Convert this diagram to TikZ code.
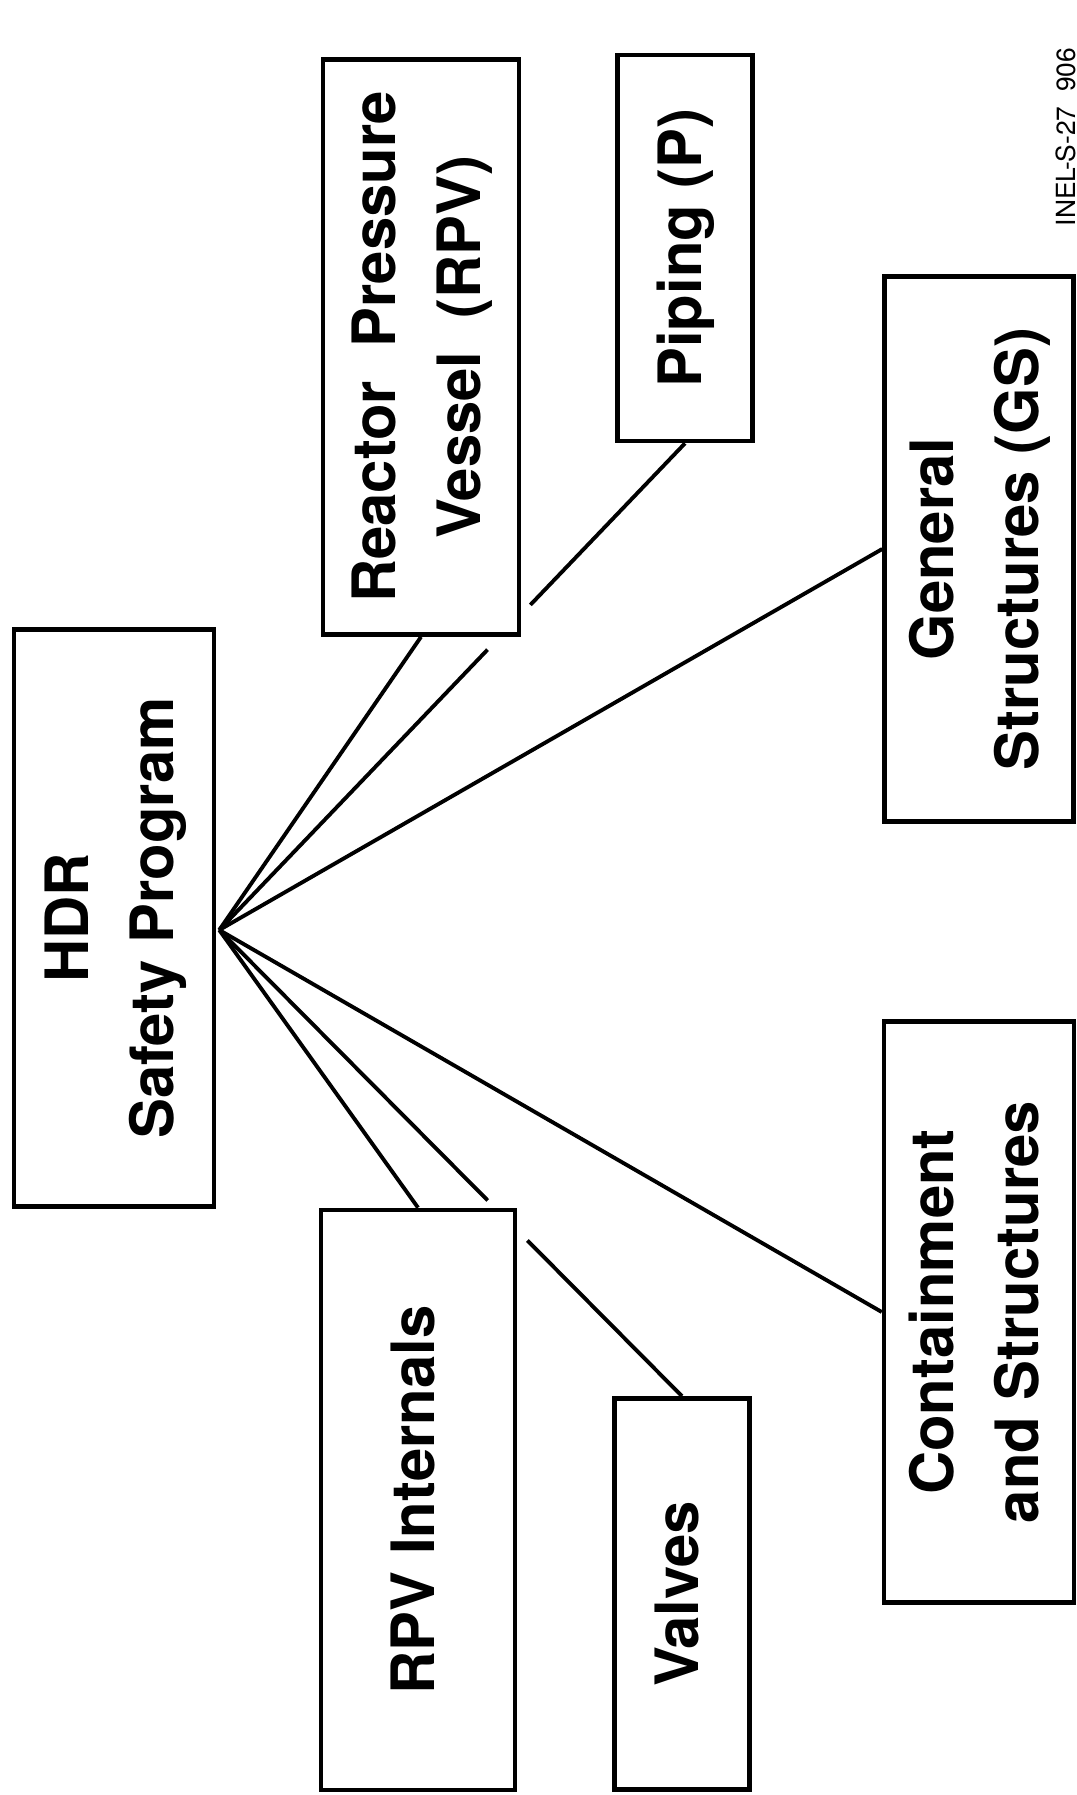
\documentclass[tikz,border=0pt]{standalone}
\usepackage{fontspec}
\setsansfont{TeX Gyre Heros}
\usepackage{graphicx}
\usepackage{tikz}
\usetikzlibrary{calc}
\newcommand{\vlabel}[1]{\rotatebox{90}{\begin{tabular}{@{}c@{}}#1\end{tabular}}}

\begin{document}
\begin{tikzpicture}[x=0.01cm, y=-0.01cm,
  box/.style={draw, line width=1.25pt, fill=white, inner sep=0pt,
    font=\sffamily\bfseries\fontsize{17}{24}\selectfont},
  link/.style={line width=1.1pt}]
  \useasboundingbox (0,0) rectangle (1076,1795);
  % Program and its branches
  \node[box, minimum width=2.00cm, minimum height=5.77cm] (hdr) at (114,918) {\vlabel{HDR\\Safety Program}};
  \node[box, minimum width=1.96cm, minimum height=5.75cm] (rpv) at (421,347) {\vlabel{Reactor~ Pressure\\Vessel~ (RPV)}};
  \node[box, minimum width=1.35cm, minimum height=3.86cm] (pip) at (685,248) {\vlabel{Piping (P)}};
  \node[box, minimum width=1.89cm, minimum height=5.45cm] (gs) at (979,549) {\vlabel{General\\Structures (GS)}};
  \node[box, minimum width=1.94cm, minimum height=5.80cm] (rpvi) at (418,1500) {\vlabel{RPV Internals}};
  \node[box, minimum width=1.35cm, minimum height=3.91cm] (valv) at (682,1594) {\vlabel{Valves}};
  \node[box, minimum width=1.90cm, minimum height=5.81cm] (cont) at (979,1312) {\vlabel{Containment\\and Structures}};
  % Drawing number
  \node[font=\sffamily\fontsize{7.5}{8}\selectfont, rotate=90] (tag) at (1066,137) {INEL-S-27\ \ 906};
  % Connectors
  \coordinate (hub) at ($(hdr.east)+(3,12)$);
  \foreach \t in {rpv.south, gs.west, rpvi.north, cont.west}
    \draw[link] (hub) -- (\t);
  % broken where they pass the box corners
  \draw[link] (hub) -- ($(hub)!0.576!(pip.south)$);
  \draw[link] ($(hub)!0.668!(pip.south)$) -- (pip.south);
  \draw[link] (hub) -- ($(hub)!0.58!(valv.north)$);
  \draw[link] ($(hub)!0.666!(valv.north)$) -- (valv.north);
\end{tikzpicture}
\end{document}
